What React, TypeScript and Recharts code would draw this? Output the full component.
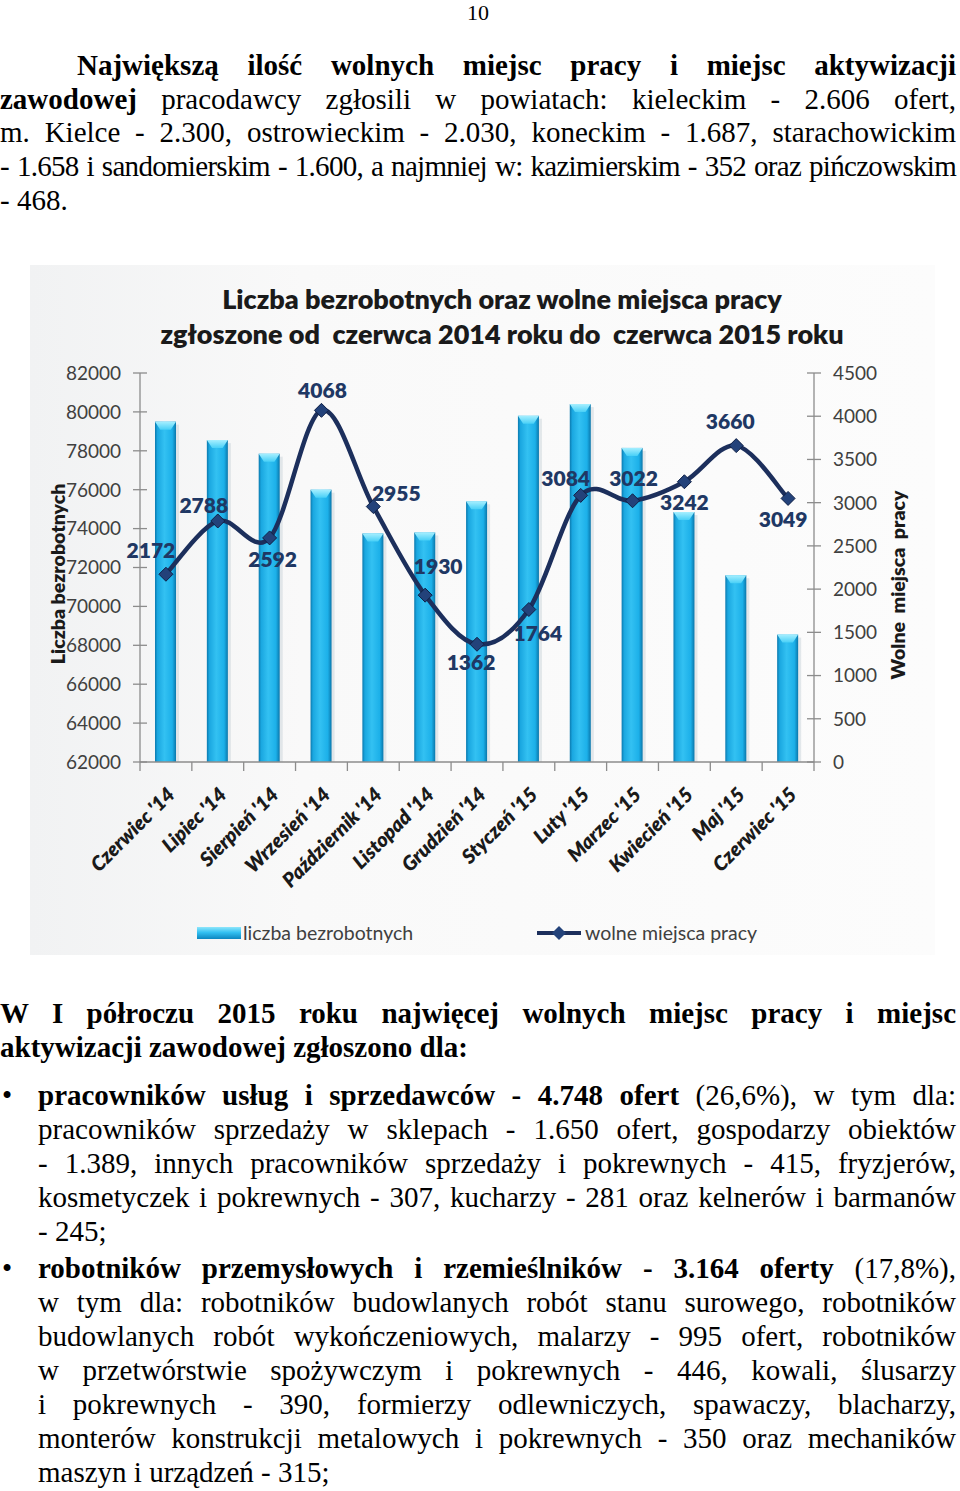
import React from "react";
import { ComposedChart, Bar, Line, XAxis, YAxis } from "recharts";

// miesiące (kategorie osi X)
const months = [
  "Czerwiec '14", "Lipiec '14", "Sierpień '14", "Wrzesień '14", "Październik '14", "Listopad '14",
  "Grudzień '14", "Styczeń '15", "Luty '15", "Marzec '15", "Kwiecień '15", "Maj '15", "Czerwiec '15",
];

// liczba bezrobotnych (słupki, lewa oś)
const unemployed = [79500, 78550, 77850, 76000, 73750, 73800, 75400, 79800, 80400, 78150, 74850, 71600, 68550];

// wolne miejsca pracy (linia, prawa oś)
const vacancies = [2172, 2788, 2592, 4068, 2955, 1930, 1362, 1764, 3084, 3022, 3242, 3660, 3049];

const leftTicks = [62000, 64000, 66000, 68000, 70000, 72000, 74000, 76000, 78000, 80000, 82000];
const rightTicks = [0, 500, 1000, 1500, 2000, 2500, 3000, 3500, 4000, 4500];

// przesunięcia etykiet danych względem punktów
const labelOffsets = [
  [-15, -24], [-14, -16], [3, 22], [1, -20], [23, -13], [13, -29], [-6, 18],
  [9, 24], [-15, -17], [1, -22], [0, 21], [-6, -24], [-5, 21],
];

const data = months.map((m, i) => ({ month: m, bez: unemployed[i], wolne: vacancies[i] }));

const CHART_FONT = "Lato, 'Open Sans', sans-serif";
const SERIF = "'Liberation Serif', 'DejaVu Serif', serif";
const NAVY = "#1c2f5c";
const BAND = 674 / months.length;

// wygładzanie w stylu Excela (Catmull-Rom)
const excelCurve = (context: any) => {
  let pts: number[][] = [];
  return {
    areaStart() {},
    areaEnd() {},
    lineStart() { pts = []; },
    point(x: number, y: number) { pts.push([+x, +y]); },
    lineEnd() {
      if (!pts.length) return;
      context.moveTo(pts[0][0], pts[0][1]);
      for (let i = 0; i < pts.length - 1; i++) {
        const p0 = pts[i - 1] || pts[i];
        const p1 = pts[i];
        const p2 = pts[i + 1];
        const p3 = pts[i + 2] || p2;
        context.bezierCurveTo(
          p1[0] + (p2[0] - p0[0]) / 6, p1[1] + (p2[1] - p0[1]) / 6,
          p2[0] - (p3[0] - p1[0]) / 6, p2[1] - (p3[1] - p1[1]) / 6,
          p2[0], p2[1]
        );
      }
    },
  };
};

const BarShape = (p: any) => {
  const { x, y, width, height } = p;
  if (!height) return null;
  return (
    <g>
      <rect x={x + 3} y={y + 3} width={width} height={height - 3} fill="#c9d3da" opacity={0.5} />
      <rect x={x} y={y} width={width} height={height} fill="url(#barGrad)" />
      <polygon
        points={`${x},${y} ${x + width},${y} ${x + width * 0.75},${y + 8} ${x + width * 0.25},${y + 8}`}
        fill="url(#capGrad)"
      />
    </g>
  );
};

const LeftTick = (p: any) => {
  const { x, y, payload } = p;
  return (
    <g>
      <line x1={x - 7} x2={x + 7} y1={y} y2={y} stroke="#8c8c8c" strokeWidth={1.3} />
      <text x={x - 19} y={y} dy="0.36em" textAnchor="end" fill="#404040" fontSize={19} fontFamily={CHART_FONT}>
        {payload.value}
      </text>
    </g>
  );
};

const RightTick = (p: any) => {
  const { x, y, payload } = p;
  return (
    <g>
      <line x1={x - 7} x2={x + 7} y1={y} y2={y} stroke="#8c8c8c" strokeWidth={1.3} />
      <text x={x + 19} y={y} dy="0.36em" textAnchor="start" fill="#404040" fontSize={19} fontFamily={CHART_FONT}>
        {payload.value}
      </text>
    </g>
  );
};

const MonthTick = (p: any) => {
  const { x, y, payload, index } = p;
  const tx = x + 10;
  const ty = y + 34;
  return (
    <g>
      {index === 0 && <line x1={x - BAND / 2} x2={x - BAND / 2} y1={y} y2={y + 9} stroke="#8c8c8c" strokeWidth={1.3} />}
      <line x1={x + BAND / 2} x2={x + BAND / 2} y1={y} y2={y + 9} stroke="#8c8c8c" strokeWidth={1.3} />
      <text
        x={tx}
        y={ty}
        transform={`rotate(-45, ${tx}, ${ty})`}
        textAnchor="end"
        fill="#1a1a1a"
        fontSize={20}
        fontWeight={800}
        fontStyle="italic"
        fontFamily={CHART_FONT}
      >
        {payload.value}
      </text>
    </g>
  );
};

const Diamond = (p: any) => {
  const { cx, cy, index } = p;
  const r = 7;
  return (
    <path
      key={`d-${index}`}
      d={`M${cx},${cy - r} L${cx + r},${cy} L${cx},${cy + r} L${cx - r},${cy} Z`}
      fill="#23427a"
      stroke="#0f2046"
      strokeWidth={1}
    />
  );
};

const ValueLabel = (p: any) => {
  const { x, y, value, index } = p;
  const [dx, dy] = labelOffsets[index] || [0, -20];
  return (
    <text
      x={x + dx}
      y={y + dy}
      dy="0.36em"
      textAnchor="middle"
      fill="#1f3864"
      fontSize={21}
      fontWeight={800}
      fontFamily={CHART_FONT}
    >
      {value}
    </text>
  );
};

const txt: React.CSSProperties = {
  position: "absolute",
  fontFamily: SERIF,
  fontSize: 29,
  lineHeight: "34px",
  color: "#000",
  whiteSpace: "nowrap",
};

const J = ({ top, left = 0, indent = 0, children, last, ls = 0 }: any) => (
  <div
    style={{
      ...txt,
      top,
      left,
      width: 956 - left,
      textIndent: indent,
      letterSpacing: ls,
      textAlign: last ? "left" : "justify",
      textAlignLast: last ? "left" : "justify",
      whiteSpace: "normal",
    }}
  >
    {children}
  </div>
);

const Bullet = ({ top }: any) => (
  <div style={{ ...txt, top, left: 2 }}>•</div>
);

export default function App() {
  return (
    <div style={{ position: "relative", width: 960, height: 1491, background: "#fff", overflow: "hidden" }}>
      <style>{`body{margin:0}`}</style>

      <div style={{ ...txt, top: 0, left: 0, width: 956, textAlign: "center", fontSize: 22, lineHeight: "25px" }}>10</div>

      <J top={48} indent={77}>
        <b>Największą ilość wolnych miejsc pracy i miejsc aktywizacji</b>
      </J>
      <J top={82}>
        <b>zawodowej</b> pracodawcy zgłosili w powiatach: kieleckim - 2.606 ofert,
      </J>
      <J top={115}>m. Kielce - 2.300, ostrowieckim - 2.030, koneckim - 1.687, starachowickim</J>
      <J top={149} ls={-0.7}>- 1.658 i sandomierskim - 1.600, a najmniej w: kazimierskim - 352 oraz pińczowskim</J>
      <J top={183} last>- 468.</J>

      {/* tło wykresu */}
      <div
        style={{
          position: "absolute",
          left: 30,
          top: 265,
          width: 905,
          height: 690,
          background: "linear-gradient(90deg, #f1f2f3 0%, #f9f9f9 30%, #fcfcfc 100%)",
        }}
      />

      <div
        style={{
          position: "absolute",
          top: 281,
          left: 0,
          width: 1004,
          textAlign: "center",
          fontFamily: CHART_FONT,
          fontWeight: 800,
          fontSize: 27,
          lineHeight: "35px",
          color: "#1a1a1a",
        }}
      >
        Liczba bezrobotnych oraz wolne miejsca pracy
        <br />
        zgłoszone od&nbsp; czerwca 2014 roku do&nbsp; czerwca 2015 roku
      </div>

      <div
        style={{
          position: "absolute",
          left: 57,
          top: 574,
          transform: "translate(-50%, -50%) rotate(-90deg)",
          fontFamily: CHART_FONT,
          fontWeight: 800,
          fontSize: 19.5,
          color: "#1a1a1a",
          whiteSpace: "nowrap",
        }}
      >
        Liczba bezrobotnych
      </div>
      <div
        style={{
          position: "absolute",
          left: 897,
          top: 585,
          transform: "translate(-50%, -50%) rotate(-90deg)",
          fontFamily: CHART_FONT,
          fontWeight: 800,
          fontSize: 19.5,
          color: "#1a1a1a",
          whiteSpace: "nowrap",
          wordSpacing: 4,
        }}
      >
        Wolne miejsca pracy
      </div>

      <div style={{ position: "absolute", top: 260, left: 0 }}>
        <ComposedChart width={960} height={700} data={data} margin={{ top: 113, right: 56, bottom: 0, left: 60 }} barSize={21}>
          <defs>
            <linearGradient id="barGrad" x1="0" y1="0" x2="1" y2="0">
              <stop offset="0%" stopColor="#0b79ae" />
              <stop offset="12%" stopColor="#1aa7e0" />
              <stop offset="45%" stopColor="#33c1f2" />
              <stop offset="82%" stopColor="#1cb0e9" />
              <stop offset="100%" stopColor="#0a77ab" />
            </linearGradient>
            <linearGradient id="capGrad" x1="0" y1="0" x2="0" y2="1">
              <stop offset="0%" stopColor="#a6efff" />
              <stop offset="100%" stopColor="#48d0f7" />
            </linearGradient>
          </defs>
          <XAxis
            dataKey="month"
            xAxisId={0}
            height={198}
            interval={0}
            tickSize={0}
            tickMargin={0}
            tickLine={false}
            axisLine={{ stroke: "#8c8c8c", strokeWidth: 1.3 }}
            tick={MonthTick}
          />
          <YAxis
            yAxisId="left"
            orientation="left"
            width={80}
            domain={[62000, 82000]}
            ticks={leftTicks}
            interval={0}
            allowDataOverflow
            tickSize={0}
            tickMargin={0}
            tickLine={false}
            axisLine={{ stroke: "#8c8c8c", strokeWidth: 1.3 }}
            tick={LeftTick}
          />
          <YAxis
            yAxisId="right"
            orientation="right"
            width={90}
            domain={[0, 4500]}
            ticks={rightTicks}
            interval={0}
            tickSize={0}
            tickMargin={0}
            tickLine={false}
            axisLine={{ stroke: "#8c8c8c", strokeWidth: 1.3 }}
            tick={RightTick}
          />
          <Bar yAxisId="left" dataKey="bez" shape={BarShape} isAnimationActive={false} />
          <Line
            yAxisId="right"
            dataKey="wolne"
            type={excelCurve as any}
            stroke={NAVY}
            strokeWidth={4.5}
            dot={Diamond}
            activeDot={false}
            label={ValueLabel}
            isAnimationActive={false}
          />
        </ComposedChart>
      </div>

      {/* legenda */}
      <div style={{ position: "absolute", top: 921, left: 197, display: "flex", alignItems: "center", fontFamily: CHART_FONT, fontSize: 19.5, color: "#404040" }}>
        <svg width={44} height={14} style={{ marginRight: 2 }}>
          <rect x={0} y={1} width={44} height={12} fill="url(#legGrad)" />
          <defs>
            <linearGradient id="legGrad" x1="0" y1="0" x2="0" y2="1">
              <stop offset="0%" stopColor="#8fe6fb" />
              <stop offset="45%" stopColor="#33c1f2" />
              <stop offset="100%" stopColor="#0b86c0" />
            </linearGradient>
          </defs>
        </svg>
        liczba bezrobotnych
      </div>
      <div style={{ position: "absolute", top: 921, left: 537, display: "flex", alignItems: "center", fontFamily: CHART_FONT, fontSize: 19.5, color: "#404040" }}>
        <svg width={44} height={16} style={{ marginRight: 4 }}>
          <line x1={0} x2={44} y1={8} y2={8} stroke={NAVY} strokeWidth={4} />
          <path d="M22,1 L29,8 L22,15 L15,8 Z" fill="#23427a" />
        </svg>
        wolne miejsca pracy
      </div>

      <J top={996}>
        <b>W I półroczu 2015 roku najwięcej wolnych miejsc pracy i miejsc</b>
      </J>
      <J top={1030} last>
        <b>aktywizacji zawodowej zgłoszono dla:</b>
      </J>

      <Bullet top={1078} />
      <J top={1078} left={38}>
        <b>pracowników usług i sprzedawców - 4.748 ofert</b> (26,6%), w tym dla:
      </J>
      <J top={1112} left={38}>pracowników sprzedaży w sklepach - 1.650 ofert, gospodarzy obiektów</J>
      <J top={1146} left={38}>- 1.389, innych pracowników sprzedaży i pokrewnych - 415, fryzjerów,</J>
      <J top={1180} left={38}>kosmetyczek i pokrewnych - 307, kucharzy - 281 oraz kelnerów i barmanów</J>
      <J top={1214} left={38} last>- 245;</J>

      <Bullet top={1251} />
      <J top={1251} left={38}>
        <b>robotników przemysłowych i rzemieślników - 3.164 oferty</b> (17,8%),
      </J>
      <J top={1285} left={38}>w tym dla: robotników budowlanych robót stanu surowego, robotników</J>
      <J top={1319} left={38}>budowlanych robót wykończeniowych, malarzy - 995 ofert, robotników</J>
      <J top={1353} left={38}>w przetwórstwie spożywczym i pokrewnych - 446, kowali, ślusarzy</J>
      <J top={1387} left={38}>i pokrewnych - 390, formierzy odlewniczych, spawaczy, blacharzy,</J>
      <J top={1421} left={38}>monterów konstrukcji metalowych i pokrewnych - 350 oraz mechaników</J>
      <J top={1455} left={38} last>maszyn i urządzeń - 315;</J>
    </div>
  );
}
